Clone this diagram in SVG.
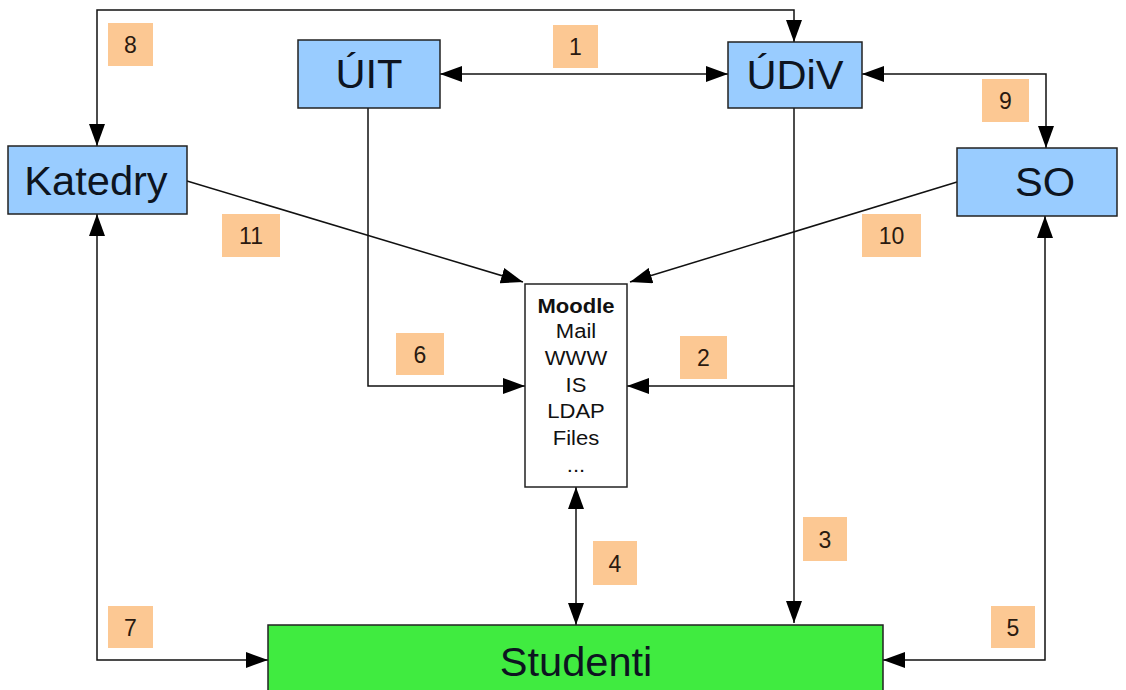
<svg xmlns="http://www.w3.org/2000/svg" width="1126" height="690" viewBox="0 0 1126 690">
<style>
.node{fill:#99ccff;stroke:#222;stroke-width:1.5}
.big{font-family:"Liberation Sans",Arial,sans-serif;font-size:40px;fill:#0d1420;text-anchor:middle}
.lbl rect{fill:#fcc893}
.lbl text{font-family:"Liberation Sans",Arial,sans-serif;font-size:23px;fill:#2a1a10;text-anchor:middle}
.ln{fill:none;stroke:#111;stroke-width:1.5}
.list{font-family:"Liberation Sans",Arial,sans-serif;font-size:19.5px;fill:#111;text-anchor:middle}
</style>
<defs>
<marker id="ah" markerUnits="userSpaceOnUse" markerWidth="22" markerHeight="16" refX="22" refY="8" orient="auto-start-reverse" viewBox="0 0 22 16">
<path d="M0,0 L22,8 L0,16 z" fill="#000"/>
</marker>
</defs>
<rect width="1126" height="690" fill="#fff"/>
<g id="connectors">
<path class="ln" d="M440,74 H728" marker-start="url(#ah)" marker-end="url(#ah)"/>
<path class="ln" d="M97,146 V10 H794 V42" marker-start="url(#ah)" marker-end="url(#ah)"/>
<path class="ln" d="M862,74 H1046 V148" marker-start="url(#ah)" marker-end="url(#ah)"/>
<path class="ln" d="M187,181 L523,282" marker-end="url(#ah)"/>
<path class="ln" d="M957,182 L630,282" marker-end="url(#ah)"/>
<path class="ln" d="M368,108 V386 H525" marker-end="url(#ah)"/>
<path class="ln" d="M794,386 H627" marker-end="url(#ah)"/>
<path class="ln" d="M794,108 V623" marker-end="url(#ah)"/>
<path class="ln" d="M576,487 V625" marker-start="url(#ah)" marker-end="url(#ah)"/>
<path class="ln" d="M97,214 V660 H268" marker-start="url(#ah)" marker-end="url(#ah)"/>
<path class="ln" d="M1045,216 V660 H883" marker-start="url(#ah)" marker-end="url(#ah)"/>
</g>
<g id="uit"><rect class="node" x="298" y="40" width="142" height="68"/><text class="big" transform="translate(369,88) scale(1.04,1)">ÚIT</text></g>
<g id="udiv"><rect class="node" x="728" y="42" width="134" height="66"/><text class="big" transform="translate(795,89) scale(1.04,1)">ÚDiV</text></g>
<g id="katedry"><rect class="node" x="8" y="146" width="179" height="68"/><text class="big" transform="translate(96,195) scale(1.04,1)">Katedry</text></g>
<g id="so"><rect class="node" x="957" y="148" width="160" height="68"/><text class="big" transform="translate(1045,196) scale(1.04,1)">SO</text></g>
<g id="moodle"><rect x="525" y="284" width="102" height="203" fill="#fff" stroke="#222" stroke-width="1.5"/>
<g class="list" transform="translate(576,0) scale(1.13,1)">
<text y="313" font-weight="bold">Moodle</text>
<text y="338">Mail</text>
<text y="365">WWW</text>
<text y="392">IS</text>
<text y="418">LDAP</text>
<text y="445">Files</text>
<text y="472">...</text>
</g></g>
<g id="studenti"><rect x="268" y="625" width="615" height="80" fill="#40eb40" stroke="#222" stroke-width="1.5"/><text class="big" transform="translate(576,676) scale(1.04,1)">Studenti</text></g>
<g class="lbl">
<g id="l1"><rect x="553" y="25" width="45" height="43"/><text x="575.5" y="55">1</text></g>
<g id="l2"><rect x="680" y="336" width="47" height="43"/><text x="703.5" y="366">2</text></g>
<g id="l3"><rect x="803" y="517" width="44" height="44"/><text x="825" y="548">3</text></g>
<g id="l4"><rect x="593" y="541" width="44" height="44"/><text x="615" y="572">4</text></g>
<g id="l5"><rect x="991" y="606" width="44" height="42"/><text x="1013" y="636">5</text></g>
<g id="l6"><rect x="396" y="333" width="48" height="42"/><text x="420" y="363">6</text></g>
<g id="l7"><rect x="108" y="606" width="45" height="42"/><text x="130.5" y="636">7</text></g>
<g id="l8"><rect x="108" y="23" width="45" height="43"/><text x="130.5" y="53">8</text></g>
<g id="l9"><rect x="982" y="79" width="47" height="43"/><text x="1005.5" y="109">9</text></g>
<g id="l10"><rect x="862" y="214" width="59" height="43"/><text x="891.5" y="244">10</text></g>
<g id="l11"><rect x="222" y="214" width="58" height="43"/><text x="251" y="244">11</text></g>
</g>
</svg>
